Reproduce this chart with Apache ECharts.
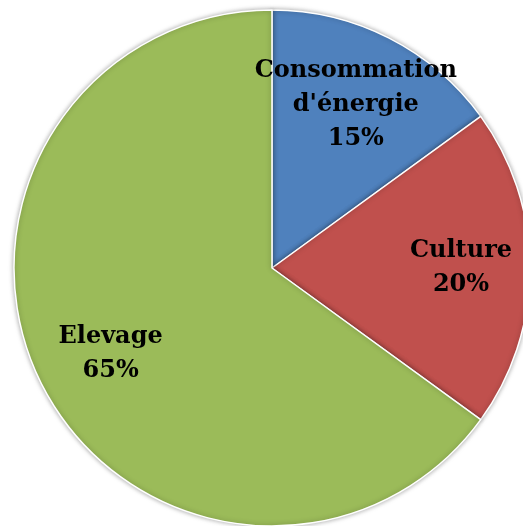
<!DOCTYPE html>
<html>
<head>
<meta charset="utf-8">
<script src="https://cdn.jsdelivr.net/npm/echarts@6/dist/echarts.min.js"></script>
<style>
html,body{margin:0;padding:0;background:#fff;}
#chart{width:523px;height:526px;}
</style>
</head>
<body>
<div id="chart"></div>
<script>
var categories = ["Consommation d'énergie", "Culture", "Elevage"];
var values = [15, 20, 65];
var colors = ["#4F81BD", "#C0504D", "#9BBB59"];

var chart = echarts.init(document.getElementById('chart'));
var R = 258;
var center = [272, 268];

var baseData = categories.map(function (c, i) {
  return { name: c, value: values[i], itemStyle: { color: colors[i] } };
});
var labelOffsets = { "Consommation d'énergie": [-2, 5], "Elevage": [7, 0] };
var labelData = categories.map(function (c, i) {
  var item = { name: c, value: values[i] };
  if (labelOffsets[c]) item.label = { offset: labelOffsets[c] };
  return item;
});

chart.setOption({
  animation: false,
  series: [
    {
      type: 'pie',
      center: center,
      radius: [0, R],
      startAngle: 90,
      clockwise: true,
      silent: true,
      label: { show: false },
      labelLine: { show: false },
      itemStyle: {
        borderColor: '#ffffff',
        borderWidth: 1.5,
        shadowBlur: 5,
        shadowColor: 'rgba(0,0,0,0.35)'
      },
      data: baseData
    },
    {
      type: 'pie',
      center: center,
      radius: [Math.round(R * 0.44), R],
      startAngle: 90,
      clockwise: true,
      silent: true,
      itemStyle: { color: 'rgba(0,0,0,0)' },
      label: {
        show: true,
        position: 'inside',
        formatter: function (p) {
          return p.name.replace(' ', '\n') + '\n' + p.percent + '%';
        },
        color: '#000000',
        fontFamily: 'DejaVu Serif',
        fontWeight: 'bold',
        fontSize: 24,
        lineHeight: 34,
        align: 'center'
      },
      labelLine: { show: false },
      data: labelData
    }
  ]
});
</script>
</body>
</html>
